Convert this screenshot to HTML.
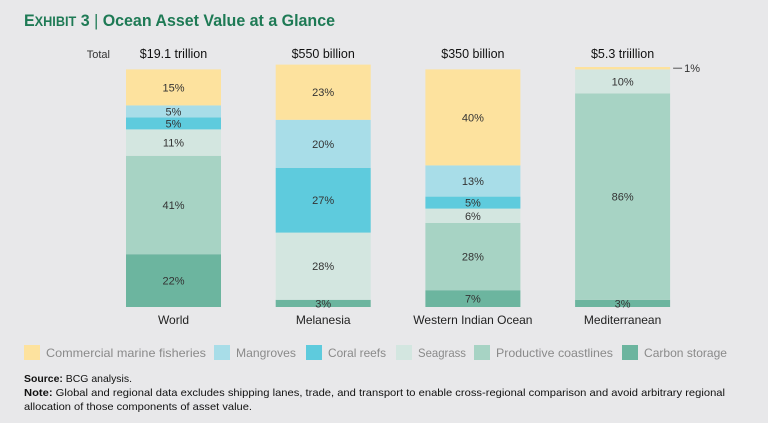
<!DOCTYPE html>
<html><head><meta charset="utf-8"><style>
body{margin:0;background:#e8e8ea;}
svg{display:block;font-family:"Liberation Sans",sans-serif;}
</style></head><body>
<svg id="c" width="768" height="423" viewBox="0 0 768 423">
<rect width="768" height="423" fill="#e8e8ea"/>
<text x="24" y="26" font-size="17" font-weight="bold" fill="#1e7a55" textLength="311" lengthAdjust="spacingAndGlyphs">E<tspan font-size="13.5">XHIBIT</tspan> 3 <tspan font-weight="normal" fill="#1e7a55">|</tspan> Ocean Asset Value at a Glance</text>
<text x="110" y="58" font-size="11" text-anchor="end" fill="#333">Total</text>
<g id="bars"></g>
<g id="legend"></g>
<text x="24" y="382" font-size="10.5" fill="#111" textLength="108" lengthAdjust="spacingAndGlyphs"><tspan font-weight="bold">Source:</tspan> BCG analysis.</text>
<text x="24" y="396" font-size="10.5" fill="#111" textLength="701" lengthAdjust="spacingAndGlyphs"><tspan font-weight="bold">Note:</tspan> Global and regional data excludes shipping lanes, trade, and transport to enable cross-regional comparison and avoid arbitrary regional</text>
<text x="24" y="410" font-size="10.5" fill="#111" textLength="228" lengthAdjust="spacingAndGlyphs">allocation of those components of asset value.</text>
</svg>
<script>
const categories = ["World","Melanesia","Western Indian Ocean","Mediterranean"];
const totals = ["$19.1 trillion","$550 billion","$350 billion","$5.3 triillion"];
const seriesNames = ["Commercial marine fisheries","Mangroves","Coral reefs","Seagrass","Productive coastlines","Carbon storage"];
const fisheries = [15,23,40,1];
const mangroves = [5,20,13,0];
const coral = [5,27,5,0];
const seagrass = [11,28,6,10];
const productive = [41,0,28,86];
const carbon = [22,3,7,3];
const series = [fisheries,mangroves,coral,seagrass,productive,carbon];
const colors = ["#fde29e","#a8dde8","#5ecbdd","#d3e6e0","#a7d3c4","#6cb59f"];
const NS="http://www.w3.org/2000/svg";
const baseY=307, pxPer=2.4, barW=95;
const xPos = i => 126 + i*149.7;
const yLen = v => v*pxPer;
const bars=document.getElementById('bars');
function mk(tag,attrs,parent){const e=document.createElementNS(NS,tag);for(const k in attrs)e.setAttribute(k,attrs[k]);parent.appendChild(e);return e;}
categories.forEach((cat,i)=>{
  const x=xPos(i);
  let y=baseY;
  for(let s=series.length-1;s>=0;s--){
    const v=series[s][i]; if(!v) continue;
    const h=yLen(v); y-=h;
    const r=mk('rect',{x:x,y:y,width:barW,height:h,fill:colors[s]},bars);
    
    
    const small = (v<3);
    if(!small){
      const t=mk('text',{x:x+barW/2,y:y+h/2+4,'font-size':11,'text-anchor':'middle',fill:'#333'},bars);
      t.textContent=v+'%';
      
      
    } else {
      mk('line',{x1:x+barW+3,y1:y+h/2,x2:x+barW+12,y2:y+h/2,stroke:'#555'},bars);
      const t=mk('text',{x:x+barW+14,y:y+h/2+4,'font-size':11,fill:'#333'},bars);
      t.textContent=v+'%';
      
      
    }
  }
  const tt=mk('text',{x:x+barW/2,y:58,'font-size':12.5,'text-anchor':'middle',fill:'#111'},bars);
  tt.textContent=totals[i];
  
  
  const ct=mk('text',{x:x+barW/2,y:324,'font-size':12,'text-anchor':'middle',fill:'#222'},bars);
  ct.textContent=cat;
  
  
});
const legX=[24,214,306,396,474,622];
const legW=[160,60,58,48,117,83];
const leg=document.getElementById('legend');
seriesNames.forEach((n,s)=>{
  const r=mk('rect',{x:legX[s],y:345,width:16,height:15,fill:colors[s]},leg);
  
  
  const t=mk('text',{x:legX[s]+22,y:357,'font-size':12,fill:'#8a8a8a',textLength:legW[s],lengthAdjust:'spacingAndGlyphs'},leg);
  t.textContent=n;
  
  
});
</script>
</body></html>
